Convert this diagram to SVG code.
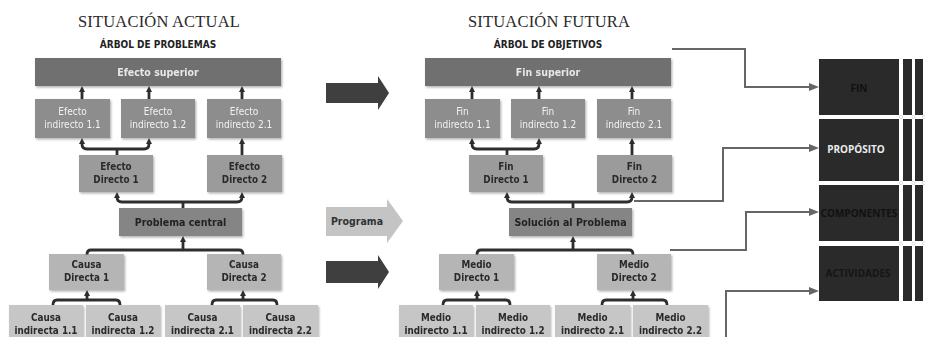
<svg xmlns="http://www.w3.org/2000/svg" width="925" height="337" viewBox="0 0 925 337">
  <defs>
    <style>
      .title { font-family: "Liberation Serif", serif; font-size: 16.5px; fill: #2a2a2a; text-anchor: middle; letter-spacing: 0.2px; }
      .sub { font-family: "DejaVu Sans Condensed", "DejaVu Sans", sans-serif; font-size: 10px; font-weight: bold; fill: #222; text-anchor: middle; }
      .lt { font-family: "DejaVu Sans Condensed", "DejaVu Sans", sans-serif; font-size: 10px; fill: #f2f2f2; text-anchor: middle; }
      .dk { font-family: "DejaVu Sans Condensed", "DejaVu Sans", sans-serif; font-size: 9.8px; font-weight: bold; fill: #2a2a2a; text-anchor: middle; }
      .big { font-family: "DejaVu Sans Condensed", "DejaVu Sans", sans-serif; font-size: 10.5px; font-weight: bold; text-anchor: middle; }
      .n0 { fill: #6f6f6f; }
      .n1 { fill: #8d8d8d; }
      .n2 { fill: #9b9b9b; }
      .n3 { fill: #858585; }
      .n4 { fill: #b5b5b5; }
      .n5 { fill: #c6c6c6; }
      .br { fill: none; stroke: #2e2e2e; stroke-width: 2.8; stroke-linecap: butt; }
      .ar { marker-end: url(#tip); }
      .link { fill: none; stroke: #666; stroke-width: 2; marker-end: url(#head); }
      .cell { fill: #2a2a2a; }
      .tb { font-family: "Open Sans", "DejaVu Sans", sans-serif; font-size: 10px; font-weight: bold; text-anchor: middle; }
      .hd { fill: #fff; stroke: #cfcfcf; stroke-width: 0.8; }
    </style>
    <filter id="sh" x="-10%" y="-10%" width="130%" height="140%">
      <feDropShadow dx="1.2" dy="1.5" stdDeviation="1" flood-color="#000" flood-opacity="0.3"/>
    </filter>
    <marker id="tip" viewBox="0 0 6 6" markerUnits="userSpaceOnUse" markerWidth="6" markerHeight="6" refX="1" refY="3" orient="auto">
      <path d="M0,0 L6,3 L0,6 z" fill="#2e2e2e"/>
    </marker>
    <marker id="head" viewBox="0 0 10 8" markerUnits="userSpaceOnUse" markerWidth="10" markerHeight="8" refX="3" refY="4" orient="auto">
      <path d="M0,0 L10,4 L0,8 z" fill="#666"/>
    </marker>
  </defs>

  <!-- headings -->
  <text class="title" x="159" y="27">SITUACIÓN ACTUAL</text>
  <text class="sub" x="158" y="48">ÁRBOL DE PROBLEMAS</text>
  <text class="title" x="549" y="27">SITUACIÓN FUTURA</text>
  <text class="sub" x="548" y="48">ÁRBOL DE OBJETIVOS</text>

  <!-- problem tree -->
  <g id="efecto-superior" filter="url(#sh)"><rect class="n0" x="35" y="58" width="246" height="28"/><text class="big" x="158" y="76" fill="#e8e8e8">Efecto superior</text></g>
  <g id="efecto-ind-11" filter="url(#sh)"><rect class="n1" x="35" y="99" width="75" height="39"/><text class="lt" x="72.5" y="115">Efecto</text><text class="lt" x="72.5" y="128">indirecto 1.1</text></g>
  <g id="efecto-ind-12" filter="url(#sh)"><rect class="n1" x="121" y="99" width="74" height="39"/><text class="lt" x="158" y="115">Efecto</text><text class="lt" x="158" y="128">indirecto 1.2</text></g>
  <g id="efecto-ind-21" filter="url(#sh)"><rect class="n1" x="207" y="99" width="74" height="39"/><text class="lt" x="244" y="115">Efecto</text><text class="lt" x="244" y="128">indirecto 2.1</text></g>
  <g id="efecto-dir-1" filter="url(#sh)"><rect class="n2" x="79" y="155" width="74" height="37"/><text class="dk" x="116" y="170">Efecto</text><text class="dk" x="116" y="183">Directo 1</text></g>
  <g id="efecto-dir-2" filter="url(#sh)"><rect class="n2" x="207" y="155" width="75" height="37"/><text class="dk" x="244.5" y="170">Efecto</text><text class="dk" x="244.5" y="183">Directo 2</text></g>
  <g id="problema-central" filter="url(#sh)"><rect class="n3" x="119" y="208" width="123" height="28"/><text class="big" x="180.5" y="226" fill="#222">Problema central</text></g>
  <g id="causa-dir-1" filter="url(#sh)"><rect class="n4" x="49" y="254" width="75" height="36"/><text class="dk" x="86.5" y="268">Causa</text><text class="dk" x="86.5" y="281">Directa 1</text></g>
  <g id="causa-dir-2" filter="url(#sh)"><rect class="n4" x="207" y="254" width="74" height="36"/><text class="dk" x="244" y="268">Causa</text><text class="dk" x="244" y="281">Directa 2</text></g>
  <g id="causa-ind-11" filter="url(#sh)"><rect class="n5" x="9" y="305" width="74" height="40"/><text class="dk" x="46" y="321">Causa</text><text class="dk" x="46" y="334">indirecta 1.1</text></g>
  <g id="causa-ind-12" filter="url(#sh)"><rect class="n5" x="86" y="305" width="74" height="40"/><text class="dk" x="123" y="321">Causa</text><text class="dk" x="123" y="334">indirecta 1.2</text></g>
  <g id="causa-ind-21" filter="url(#sh)"><rect class="n5" x="165" y="305" width="75" height="40"/><text class="dk" x="202.5" y="321">Causa</text><text class="dk" x="202.5" y="334">indirecta 2.1</text></g>
  <g id="causa-ind-22" filter="url(#sh)"><rect class="n5" x="243" y="305" width="75" height="40"/><text class="dk" x="280.5" y="321">Causa</text><text class="dk" x="280.5" y="334">indirecta 2.2</text></g>

  <!-- objective tree -->
  <g id="fin-superior" filter="url(#sh)"><rect class="n0" x="425" y="58" width="246" height="28"/><text class="big" x="548" y="76" fill="#e8e8e8">Fin superior</text></g>
  <g id="fin-ind-11" filter="url(#sh)"><rect class="n1" x="425" y="99" width="75" height="39"/><text class="lt" x="462.5" y="115">Fin</text><text class="lt" x="462.5" y="128">indirecto 1.1</text></g>
  <g id="fin-ind-12" filter="url(#sh)"><rect class="n1" x="511" y="99" width="74" height="39"/><text class="lt" x="548" y="115">Fin</text><text class="lt" x="548" y="128">indirecto 1.2</text></g>
  <g id="fin-ind-21" filter="url(#sh)"><rect class="n1" x="597" y="99" width="74" height="39"/><text class="lt" x="634" y="115">Fin</text><text class="lt" x="634" y="128">indirecto 2.1</text></g>
  <g id="fin-dir-1" filter="url(#sh)"><rect class="n2" x="469" y="155" width="74" height="37"/><text class="dk" x="506" y="170">Fin</text><text class="dk" x="506" y="183">Directo 1</text></g>
  <g id="fin-dir-2" filter="url(#sh)"><rect class="n2" x="597" y="155" width="75" height="37"/><text class="dk" x="634.5" y="170">Fin</text><text class="dk" x="634.5" y="183">Directo 2</text></g>
  <g id="solucion" filter="url(#sh)"><rect class="n3" x="509" y="208" width="123" height="28"/><text class="big" x="570.5" y="226" fill="#222">Solución al Problema</text></g>
  <g id="medio-dir-1" filter="url(#sh)"><rect class="n4" x="439" y="254" width="75" height="36"/><text class="dk" x="476.5" y="268">Medio</text><text class="dk" x="476.5" y="281">Directo 1</text></g>
  <g id="medio-dir-2" filter="url(#sh)"><rect class="n4" x="597" y="254" width="74" height="36"/><text class="dk" x="634" y="268">Medio</text><text class="dk" x="634" y="281">Directo 2</text></g>
  <g id="medio-ind-11" filter="url(#sh)"><rect class="n5" x="399" y="305" width="74" height="40"/><text class="dk" x="436" y="321">Medio</text><text class="dk" x="436" y="334">indirecto 1.1</text></g>
  <g id="medio-ind-12" filter="url(#sh)"><rect class="n5" x="476" y="305" width="74" height="40"/><text class="dk" x="513" y="321">Medio</text><text class="dk" x="513" y="334">indirecto 1.2</text></g>
  <g id="medio-ind-21" filter="url(#sh)"><rect class="n5" x="555" y="305" width="75" height="40"/><text class="dk" x="592.5" y="321">Medio</text><text class="dk" x="592.5" y="334">indirecto 2.1</text></g>
  <g id="medio-ind-22" filter="url(#sh)"><rect class="n5" x="633" y="305" width="75" height="40"/><text class="dk" x="670.5" y="321">Medio</text><text class="dk" x="670.5" y="334">indirecto 2.2</text></g>

  <!-- block arrows between the trees -->
  <g id="flecha-1"><polygon points="326,83 378,83 378,76 389,93 378,110 378,103 326,103" fill="#3f3f3f"/></g>
  <g id="programa"><polygon points="326,207 387,207 387,199 403,221 387,243 387,236 326,236" fill="#c4c4c4"/><text class="big" x="357" y="225" fill="#333">Programa</text></g>
  <g id="flecha-2"><polygon points="326,261 378,261 378,255 389,272 378,289 378,283 326,283" fill="#3f3f3f"/></g>

  <!-- logframe table -->
  <g id="matriz">
    <rect class="cell" x="819" y="59" width="80" height="56"/>
    <rect class="cell" x="903" y="59" width="9" height="56"/>
    <rect class="cell" x="915" y="59" width="8" height="56"/>
    <rect class="cell" x="819" y="119" width="80" height="62"/>
    <rect class="cell" x="903" y="119" width="9" height="62"/>
    <rect class="cell" x="915" y="119" width="8" height="62"/>
    <rect class="cell" x="819" y="185" width="80" height="56"/>
    <rect class="cell" x="903" y="185" width="9" height="56"/>
    <rect class="cell" x="915" y="185" width="8" height="56"/>
    <rect class="cell" x="819" y="246" width="80" height="55"/>
    <rect class="cell" x="903" y="246" width="9" height="55"/>
    <rect class="cell" x="915" y="246" width="8" height="55"/>
    <circle class="hd" cx="901" cy="117" r="1.6"/><circle class="hd" cx="913.5" cy="117" r="1.6"/><circle class="hd" cx="924" cy="117" r="1.6"/>
    <circle class="hd" cx="901" cy="183" r="1.6"/><circle class="hd" cx="913.5" cy="183" r="1.6"/><circle class="hd" cx="924" cy="183" r="1.6"/>
    <circle class="hd" cx="901" cy="243.5" r="1.6"/><circle class="hd" cx="913.5" cy="243.5" r="1.6"/><circle class="hd" cx="924" cy="243.5" r="1.6"/>
  </g>
  <g id="fin"><text class="tb" x="859" y="92" fill="#111">FIN</text></g>
  <g id="proposito"><text class="tb" x="856" y="153" fill="#ececec">PROPÓSITO</text></g>
  <g id="componentes"><text class="tb" x="859" y="217" fill="#111">COMPONENTES</text></g>
  <g id="actividades"><text class="tb" x="858" y="277" fill="#151515">ACTIVIDADES</text></g>

  <!-- connectors -->
  <g id="connectors">
    <!-- problem tree -->
    <path class="br ar" d="M82,99 V91"/>
    <path class="br ar" d="M149,99 V91"/>
    <path class="br ar" d="M242,99 V91"/>
    <path class="br" d="M117,155 V149"/>
    <path class="br ar" d="M117,149 H87 Q82,149 82,144 V143"/>
    <path class="br ar" d="M117,149 H144 Q149,149 149,144 V143"/>
    <path class="br ar" d="M242,155 V143"/>
    <path class="br" d="M183,208 V202"/>
    <path class="br ar" d="M183,202 H122 Q117,202 117,197"/>
    <path class="br ar" d="M183,202 H237 Q242,202 242,197"/>
    <path class="br ar" d="M183,250 V241"/>
    <path class="br" d="M183,250 H91 Q87,250 87,254.5"/>
    <path class="br" d="M183,250 H239 Q243,250 243,254.5"/>
    <path class="br ar" d="M87,300 V295"/>
    <path class="br" d="M87,300 H57 Q53,300 53,305"/>
    <path class="br" d="M87,300 H116 Q120,300 120,305"/>
    <path class="br ar" d="M243,300 V295"/>
    <path class="br" d="M243,300 H216 Q212,300 212,305"/>
    <path class="br" d="M243,300 H273 Q277,300 277,305"/>
    <!-- objective tree -->
    <path class="br ar" d="M472,99 V91"/>
    <path class="br ar" d="M539,99 V91"/>
    <path class="br ar" d="M632,99 V91"/>
    <path class="br" d="M507,155 V149"/>
    <path class="br ar" d="M507,149 H477 Q472,149 472,144 V143"/>
    <path class="br ar" d="M507,149 H534 Q539,149 539,144 V143"/>
    <path class="br ar" d="M632,155 V143"/>
    <path class="br" d="M573,208 V202"/>
    <path class="br ar" d="M573,202 H512 Q507,202 507,197"/>
    <path class="br ar" d="M573,202 H627 Q632,202 632,197"/>
    <path class="br ar" d="M573,250 V241"/>
    <path class="br" d="M573,250 H481 Q477,250 477,254.5"/>
    <path class="br" d="M573,250 H629 Q633,250 633,254.5"/>
    <path class="br ar" d="M477,300 V295"/>
    <path class="br" d="M477,300 H447 Q443,300 443,305"/>
    <path class="br" d="M477,300 H506 Q510,300 510,305"/>
    <path class="br ar" d="M633,300 V295"/>
    <path class="br" d="M633,300 H606 Q602,300 602,305"/>
    <path class="br" d="M633,300 H663 Q667,300 667,305"/>
    <!-- links to the logframe -->
    <path class="link" d="M672,49 H745 V87 H812"/>
    <path class="link" d="M634,201 H723 V148 H812"/>
    <path class="link" d="M670,250 H746 V212 H812"/>
    <path class="link" d="M726,337 V291 H812"/>
  </g>
</svg>
